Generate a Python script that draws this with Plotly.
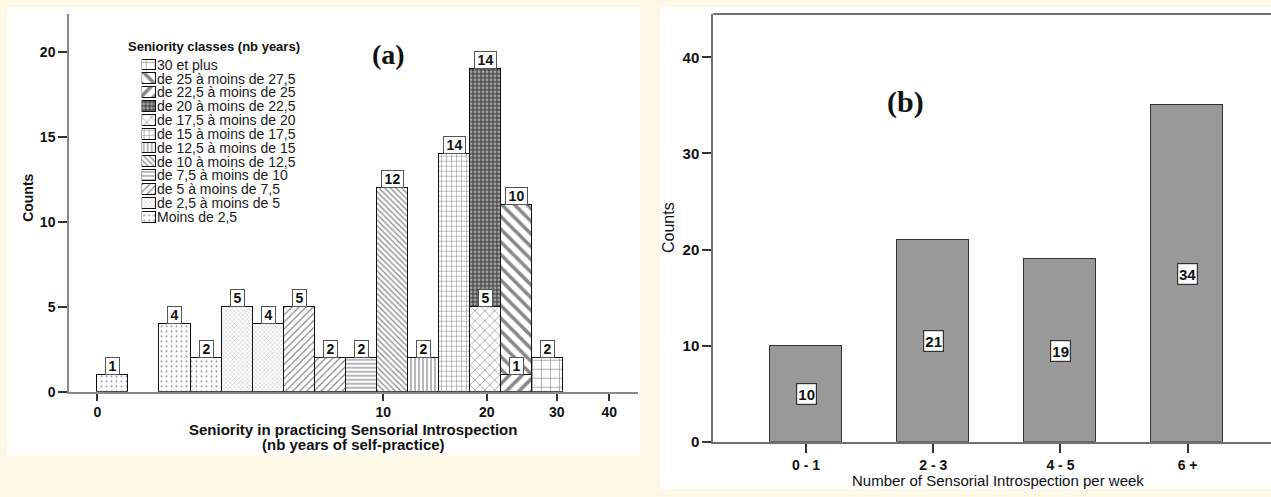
import plotly.graph_objects as go

# ---------------- data: panel (a) ----------------
classes = [
    "Moins de 2,5", "de 2,5 à moins de 5", "de 5 à moins de 7,5",
    "de 7,5 à moins de 10", "de 10 à moins de 12,5", "de 12,5 à moins de 15",
    "de 15 à moins de 17,5", "de 17,5 à moins de 20", "de 20 à moins de 22,5",
    "de 22,5 à moins de 25", "de 25 à moins de 27,5", "30 et plus",
]
bar_slot = [0, 2, 3, 4, 5, 6, 7, 8, 9, 10, 11, 12, 12, 13, 13, 14]
bar_class = [0, 0, 0, 1, 1, 2, 2, 3, 4, 5, 6, 7, 8, 9, 10, 11]
bar_count = [1, 4, 2, 5, 4, 5, 2, 2, 12, 2, 14, 5, 14, 1, 10, 2]
seniority_tick_labels = ["0", "10", "20", "30", "40"]
counts_ticks_a = [0, 5, 10, 15, 20]

# ---------------- data: panel (b) ----------------
freq_categories = ["0 - 1", "2 - 3", "4 - 5", "6 +"]
freq_counts = [10, 21, 19, 35]
freq_labels = ["10", "21", "19", "34"]
counts_ticks_b = [0, 10, 20, 30, 40]

# ---------------- layout helpers ----------------
W, H = 1271, 497
SENIORITY_TICK_POS = [-0.5, 8.705, 12.033, 14.286, 15.979]


def px(x):
    return x / W


def py(y):
    return 1 - y / H


SANS = "Liberation Sans, Arial, sans-serif"
SERIF = "Liberation Serif, Times New Roman, serif"

patterns = [
    dict(shape=".", size=5, solidity=0.12, fgcolor="#222222", bgcolor="white"),
    dict(shape="x", size=3, solidity=0.3, fgcolor="#8a8a8a", bgcolor="white"),
    dict(shape="/", size=5, solidity=0.25, fgcolor="#111111", bgcolor="white"),
    dict(shape="-", size=4, solidity=0.3, fgcolor="#111111", bgcolor="white"),
    dict(shape="\\", size=4, solidity=0.3, fgcolor="#111111", bgcolor="white"),
    dict(shape="|", size=4, solidity=0.3, fgcolor="#111111", bgcolor="white"),
    dict(shape="+", size=5, solidity=0.2, fgcolor="#111111", bgcolor="white"),
    dict(shape="x", size=7, solidity=0.18, fgcolor="#111111", bgcolor="white"),
    dict(shape=".", size=4, solidity=0.5, fgcolor="white", bgcolor="#4a4a4a"),
    dict(shape="/", size=9, solidity=0.4, fgcolor="#111111", bgcolor="white"),
    dict(shape="\\", size=9, solidity=0.4, fgcolor="#111111", bgcolor="white"),
    dict(shape="+", size=9, solidity=0.14, fgcolor="#111111", bgcolor="white"),
]

fig = go.Figure()

# panel (a) bars, one trace per seniority class (stacked)
for ci, name in enumerate(classes):
    xs = [s for s, c in zip(bar_slot, bar_class) if c == ci]
    ys = [n for n, c in zip(bar_count, bar_class) if c == ci]
    fig.add_trace(go.Bar(
        x=xs, y=ys, name=name, width=1, xaxis="x", yaxis="y",
        marker=dict(color="white", line=dict(color="#111111", width=1),
                    pattern=patterns[ci]),
        showlegend=False,
    ))

# legend swatches for panel (a)
for ci, name in enumerate(classes):
    fig.add_trace(go.Bar(
        x=[1], y=[ci], orientation="h", width=0.78, xaxis="x3", yaxis="y3",
        marker=dict(color="white", line=dict(color="#111111", width=1),
                    pattern=patterns[ci]),
        showlegend=False, hoverinfo="skip",
    ))

# panel (b) bars
fig.add_trace(go.Bar(
    x=freq_categories, y=freq_counts, width=0.564, xaxis="x2", yaxis="y2",
    marker=dict(color="#999999", line=dict(color="#333333", width=1.5)),
    showlegend=False,
))

annotations = []

# value boxes on panel (a)
running = {}
for s, c, n in zip(bar_slot, bar_class, bar_count):
    top = running.get(s, 0) + n
    running[s] = top
    txt = str(n)
    annotations.append(dict(
        x=s, y=top, xref="x", yref="y", text=txt, showarrow=False,
        xanchor="center", yanchor="bottom",
        font=dict(family=SANS, size=14, color="#111111", weight="bold"),
        bgcolor="white", bordercolor="#555555", borderwidth=1, borderpad=1,
        width=11 if len(txt) == 1 else 19, height=14,
    ))

# value boxes on panel (b)
for cat, cnt, lab in zip(freq_categories, freq_counts, freq_labels):
    annotations.append(dict(
        x=cat, y=cnt / 2, xref="x2", yref="y2", text=lab, showarrow=False,
        xanchor="center", yanchor="middle",
        font=dict(family=SANS, size=15, color="#111111", weight="bold"),
        bgcolor="white", bordercolor="#333333", borderwidth=1.2, borderpad=1,
        width=17, height=18,
    ))

# texts
annotations += [
    dict(x=px(126), y=py(46.7), xref="paper", yref="paper", showarrow=False,
         xanchor="left", yanchor="middle", text="Seniority classes (nb years)",
         font=dict(family=SANS, size=13, color="#111111", weight="bold")),
    dict(x=px(388), y=py(54), xref="paper", yref="paper", showarrow=False,
         xanchor="center", yanchor="middle", text="(a)",
         font=dict(family=SERIF, size=28, color="#111111", weight="bold")),
    dict(x=px(905), y=py(103), xref="paper", yref="paper", showarrow=False,
         xanchor="center", yanchor="middle", text="(b)",
         font=dict(family=SERIF, size=30, color="#111111", weight="bold")),
    dict(x=px(353), y=py(436.7), xref="paper", yref="paper", showarrow=False,
         xanchor="center", yanchor="middle",
         text="Seniority in practicing Sensorial Introspection",
         font=dict(family=SANS, size=15, color="#111111", weight="bold")),
    dict(x=px(353), y=py(451.7), xref="paper", yref="paper", showarrow=False,
         xanchor="center", yanchor="middle",
         text="(nb years of self-practice)",
         font=dict(family=SANS, size=15, color="#111111", weight="bold")),
    dict(x=px(28.5), y=py(201), xref="paper", yref="paper", showarrow=False,
         xanchor="center", yanchor="middle", text="Counts", textangle=-90,
         font=dict(family=SANS, size=14, color="#111111", weight="bold")),
    dict(x=px(668.5), y=py(230.7), xref="paper", yref="paper", showarrow=False,
         xanchor="center", yanchor="middle", text="Counts", textangle=-90,
         font=dict(family=SANS, size=16, color="#111111")),
    dict(x=px(997.5), y=py(488), xref="paper", yref="paper", showarrow=False,
         xanchor="center", yanchor="middle",
         text="Number of Sensorial Introspection per week",
         font=dict(family=SANS, size=15, color="#111111")),
]

shapes = [
    # white panels on the cream page
    dict(type="rect", xref="paper", yref="paper", layer="below",
         x0=px(7), x1=px(640), y0=py(462), y1=py(6),
         fillcolor="white", line=dict(width=0)),
    dict(type="rect", xref="paper", yref="paper", layer="below",
         x0=px(660), x1=px(1271), y0=py(497), y1=py(6),
         fillcolor="white", line=dict(width=0)),
    # top frame line of panel (b)
    dict(type="line", xref="paper", yref="paper",
         x0=px(713.3), x1=1, y0=py(13.3), y1=py(13.3),
         line=dict(color="#707070", width=2)),
]

axis_common = dict(showgrid=False, zeroline=False, fixedrange=True,
                   ticks="outside", tickcolor="#333333")

fig.update_layout(
    width=W, height=H, autosize=False,
    margin=dict(l=0, r=0, t=0, b=0, pad=0),
    paper_bgcolor="#FEF9E7", plot_bgcolor="rgba(0,0,0,0)",
    barmode="stack", bargap=0,
    font=dict(family=SANS, color="#111111"),
    xaxis=dict(domain=[px(69), px(638.3)], range=[-1.411, 16.91], anchor="y",
               tickmode="array", tickvals=SENIORITY_TICK_POS,
               ticktext=seniority_tick_labels, ticklen=7, tickwidth=1.5,
               showline=True, linecolor="#8a8a8a", linewidth=1.5,
               tickfont=dict(family=SANS, size=14, color="#111111", weight="bold"),
               **axis_common),
    yaxis=dict(domain=[py(398), py(13)], range=[0, 22.25], anchor="x",
               tickmode="array", tickvals=counts_ticks_a, ticklen=9, tickwidth=1.5,
               showline=True, linecolor="#8a8a8a", linewidth=1.5,
               tickfont=dict(family=SANS, size=14, color="#111111", weight="bold"),
               **axis_common),
    xaxis2=dict(domain=[px(713.3), 1], range=[-0.7288, 3.6557], anchor="y2",
                type="category", categoryorder="array", categoryarray=freq_categories,
                ticklen=9, tickwidth=1.5,
                showline=True, linecolor="#707070", linewidth=2,
                tickfont=dict(family=SANS, size=14, color="#111111", weight="bold"),
                **axis_common),
    yaxis2=dict(domain=[py(449), py(13.3)], range=[0, 44.5], anchor="x2",
                tickmode="array", tickvals=counts_ticks_b, ticklen=9, tickwidth=1.5,
                showline=True, linecolor="#707070", linewidth=2,
                tickfont=dict(family=SANS, size=15, color="#111111", weight="bold"),
                **axis_common),
    xaxis3=dict(domain=[px(141.7), px(156)], range=[0, 1], anchor="y3",
                visible=False, fixedrange=True),
    yaxis3=dict(domain=[py(227.05), py(57.95)], range=[-0.5, 11.5], anchor="x3",
                side="right", tickmode="array", tickvals=list(range(len(classes))),
                ticktext=classes, ticks="", showline=False, showgrid=False,
                zeroline=False, fixedrange=True,
                tickfont=dict(family=SANS, size=14, color="#1a1a1a")),
    annotations=annotations,
    shapes=shapes,
)

fig.write_html(
    "out.html",
    config={"displayModeBar": False},
    post_script="document.documentElement.style.margin='0';"
                "document.body.style.margin='0';"
                "document.body.style.overflow='hidden';",
)
